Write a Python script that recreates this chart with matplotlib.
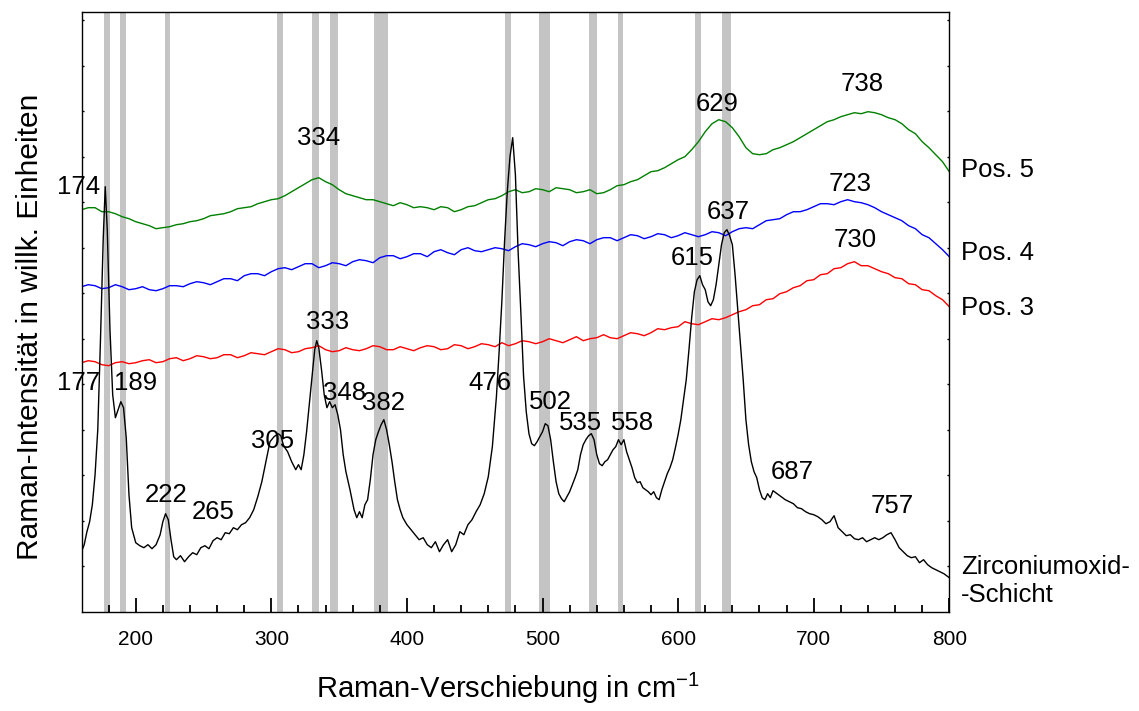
import matplotlib
matplotlib.use("Agg")
import matplotlib.pyplot as plt
import numpy as np

plt.rcParams["font.family"] = ["Liberation Sans", "DejaVu Sans"]
plt.rcParams["mathtext.fontset"] = "custom"
plt.rcParams["mathtext.rm"] = "Liberation Sans"
plt.rcParams["mathtext.it"] = "Liberation Sans"

# Raman spectra (wavenumber in cm^-1, intensity in arbitrary units, already offset)
zro_x = [160, 162, 164, 166, 168, 170, 172, 174, 176, 177.5, 179, 181, 183, 185, 187, 189, 191, 193,
         195, 197, 200, 203, 206, 209, 212, 215, 218, 220, 222, 224, 226, 228, 230, 233, 236, 239,
         242, 245, 248, 251, 254, 257, 260, 263, 266, 269, 272, 275, 278, 281, 284, 287, 290, 293,
         296, 299, 302, 305, 307, 309, 312, 315, 318, 320, 322, 324, 326, 328, 330, 332, 333.5, 335,
         337, 339, 341, 343, 345, 347, 349, 351, 353, 355, 358, 361, 363, 365, 367, 369, 371, 373,
         375, 377, 379, 381, 383, 385, 387, 389, 391, 393, 395, 397, 400, 403, 406, 409, 412, 415,
         418, 421, 424, 427, 430, 433, 436, 439, 442, 445, 448, 451, 454, 457, 460, 463, 466, 468,
         470, 472, 474, 476, 478, 480, 482, 484, 486, 488, 490, 492, 494, 496, 498, 500, 502, 504,
         506, 508, 510, 512, 514, 516, 518, 520, 522, 524, 526, 528, 530, 532, 534, 536, 538, 540,
         542, 544, 546, 548, 550, 552, 554, 556, 558, 560, 562, 564, 566, 568, 570, 572, 574, 576,
         578, 580, 582, 584, 586, 588, 590, 592, 594, 596, 598, 600, 602, 604, 606, 608, 610, 612,
         614, 616, 618, 620, 622, 624, 626, 628, 630, 632, 634, 636, 638, 640, 642, 644, 646, 648,
         650, 652, 654, 656, 658, 660, 662, 664, 666, 668, 670, 673, 676, 679, 682, 685, 688, 691,
         694, 697, 700, 703, 706, 709, 712, 715, 718, 721, 724, 727, 730, 733, 736, 739, 742, 745,
         748, 751, 754, 757, 760, 763, 766, 769, 772, 775, 778, 781, 784, 787, 790, 793, 796, 800]
zro_y = [60, 67, 80, 90, 107, 137, 182, 272, 372, 425, 382, 282, 217, 194, 202, 210, 204, 174,
         117, 84, 69, 66, 64, 67, 63, 67, 77, 90, 98, 92, 72, 55, 52, 56, 50, 55,
         59, 57, 64, 66, 63, 71, 74, 72, 79, 78, 84, 82, 87, 89, 94, 102, 115, 130,
         150, 170, 175, 178, 176, 166, 160, 150, 142, 147, 142, 157, 180, 207, 234, 262, 271, 264,
         242, 217, 204, 210, 204, 207, 197, 182, 157, 140, 122, 102, 94, 100, 94, 107, 112, 132,
         157, 172, 180, 187, 192, 182, 167, 150, 130, 112, 102, 94, 87, 82, 77, 72, 74, 67,
         64, 70, 60, 67, 72, 60, 67, 80, 77, 87, 92, 100, 107, 118, 135, 165, 215, 260,
         310, 370, 420, 455, 474, 437, 360, 300, 236, 200, 178, 168, 166, 170, 175, 180, 188, 186,
         172, 150, 130, 118, 113, 110, 115, 120, 127, 134, 142, 157, 167, 172, 176, 178, 172, 157,
         148, 146, 150, 152, 157, 162, 165, 172, 167, 172, 160, 152, 144, 134, 129, 130, 124, 122,
         120, 117, 120, 114, 112, 122, 130, 138, 144, 152, 164, 177, 192, 212, 232, 262, 294, 320,
         332, 336, 327, 322, 310, 306, 312, 327, 347, 367, 379, 382, 376, 367, 337, 302, 267, 232,
         192, 167, 150, 140, 134, 122, 114, 112, 118, 114, 121, 118, 115, 112, 110, 108, 104, 103,
         100, 98, 97, 95, 92, 88, 90, 96, 84, 80, 76, 77, 73, 72, 74, 70, 72, 74,
         72, 74, 77, 79, 72, 64, 60, 56, 54, 55, 49, 52, 47, 44, 42, 40, 38, 34]

pos_x = [160, 165, 170, 175, 180, 185, 190, 195, 200, 205, 210, 215, 220, 225, 230, 235, 240, 245,
         250, 255, 260, 265, 270, 275, 280, 285, 290, 295, 300, 305, 310, 315, 320, 325, 330, 335,
         340, 345, 350, 355, 360, 365, 370, 375, 380, 385, 390, 395, 400, 405, 410, 415, 420, 425,
         430, 435, 440, 445, 450, 455, 460, 465, 470, 475, 480, 485, 490, 495, 500, 505, 510, 515,
         520, 525, 530, 535, 540, 545, 550, 555, 560, 565, 570, 575, 580, 585, 590, 595, 600, 605,
         610, 615, 620, 625, 630, 635, 640, 645, 650, 655, 660, 665, 670, 675, 680, 685, 690, 695,
         700, 705, 710, 715, 720, 725, 730, 735, 740, 745, 750, 755, 760, 765, 770, 775, 780, 785,
         790, 795, 800]
pos3_y = [249, 251, 250, 247, 246, 249, 250, 248, 249, 251, 252, 249, 250, 253, 254, 251, 253, 256,
          255, 253, 254, 257, 257, 254, 256, 259, 258, 257, 260, 263, 262, 259, 260, 263, 264, 266,
          262, 260, 261, 264, 262, 261, 263, 266, 265, 262, 262, 265, 263, 261, 264, 266, 265, 262,
          263, 267, 266, 263, 265, 268, 267, 265, 269, 266, 268, 271, 270, 268, 270, 273, 271, 269,
          272, 275, 271, 273, 274, 277, 274, 273, 276, 279, 278, 276, 279, 283, 282, 284, 285, 290,
          288, 287, 290, 293, 292, 294, 297, 300, 302, 306, 307, 312, 313, 318, 320, 324, 326, 331,
          332, 337, 338, 343, 344, 348, 350, 346, 346, 343, 340, 338, 334, 333, 328, 327, 322, 321,
          316, 312, 305]
pos4_y = [325, 327, 326, 323, 324, 327, 325, 322, 323, 325, 322, 321, 323, 326, 326, 325, 328, 330,
          329, 327, 330, 333, 333, 331, 336, 338, 338, 336, 340, 343, 344, 342, 345, 348, 348, 344,
          346, 349, 348, 346, 350, 352, 351, 349, 354, 356, 356, 353, 355, 358, 358, 355, 360, 362,
          359, 357, 362, 364, 361, 360, 362, 364, 363, 361, 365, 368, 367, 365, 368, 370, 369, 366,
          370, 372, 371, 368, 372, 374, 374, 371, 374, 377, 376, 373, 375, 378, 377, 374, 376, 379,
          377, 375, 377, 380, 379, 376, 380, 383, 384, 383, 387, 391, 392, 393, 397, 400, 400, 402,
          405, 408, 408, 407, 410, 412, 410, 409, 407, 404, 400, 397, 394, 391, 386, 383, 377, 374,
          368, 362, 355]
pos5_y = [402, 404, 404, 400, 400, 398, 395, 393, 390, 388, 386, 383, 384, 385, 387, 388, 390, 391,
          393, 396, 397, 398, 400, 403, 404, 405, 408, 410, 412, 413, 416, 420, 424, 428, 432, 434,
          430, 427, 422, 418, 416, 414, 412, 412, 410, 408, 406, 409, 407, 404, 405, 404, 402, 405,
          404, 400, 402, 405, 406, 409, 412, 413, 416, 420, 422, 419, 420, 423, 422, 420, 424, 423,
          422, 419, 420, 422, 418, 419, 422, 426, 427, 430, 432, 436, 440, 441, 444, 448, 452, 455,
          462, 470, 480, 488, 492, 490, 484, 475, 464, 458, 457, 458, 462, 464, 467, 470, 474, 478,
          482, 486, 490, 492, 495, 497, 499, 498, 500, 499, 497, 494, 492, 488, 482, 478, 470, 464,
          457, 450, 440]

# Reference band positions (lower / upper edge in cm^-1)
band_lo = [176.4, 188.2, 221.4, 304.5, 330.3, 342.9, 375.5, 472.6, 497.7, 534.1, 555.4, 612.7, 632.4]
band_hi = [180.9, 193.0, 225.1, 308.7, 335.0, 348.8, 385.9, 477.1, 505.8, 540.0, 559.1, 616.9, 639.1]

# Peak labels: text, x, y
peak_labels = [("174", 157.8, 425), ("177", 157.8, 229), ("189", 199.8, 229), ("222", 222.7, 117),
               ("265", 257.3, 100), ("305", 300.8, 171), ("333", 341.4, 290), ("348", 353.9, 219),
               ("382", 382.7, 209), ("334", 334.8, 474), ("476", 460.9, 229), ("502", 505.8, 210),
               ("535", 528.0, 189), ("558", 566.3, 189), ("615", 610.6, 354), ("637", 637.1, 400),
               ("629", 629.0, 508), ("738", 735.9, 528), ("723", 727.0, 428), ("730", 730.7, 372),
               ("687", 684.3, 140), ("757", 758.0, 106)]

series_names = ["Pos. 5", "Pos. 4", "Pos. 3", "Zirconiumoxid-\n-Schicht"]
series_label_y = [442, 359, 304, 31]

fig = plt.figure(figsize=(11.39, 7.11), dpi=100)
ax = fig.add_axes([81.5 / 1139, (711 - 611.7) / 711, (949.3 - 81.5) / 1139, 600 / 711])

for lo, hi in zip(band_lo, band_hi):
    ax.axvspan(lo, hi, color="#c4c4c4", lw=0, zorder=0)

ax.plot(zro_x, zro_y, color="black", lw=1.0, zorder=3)
ax.plot(pos_x, pos3_y, color="#ff0000", lw=1.0, zorder=2)
ax.plot(pos_x, pos4_y, color="#0000ff", lw=1.0, zorder=2)
ax.plot(pos_x, pos5_y, color="#008000", lw=1.0, zorder=2)

for txt, x, y in peak_labels:
    ax.text(x, y, txt, fontsize=18.5, ha="center", va="center", zorder=4, clip_on=False)

for name, y in zip(series_names, series_label_y):
    ax.text(808.5, y, name, fontsize=18.5, ha="left", va="center", clip_on=False,
            linespacing=1.2)

ax.set_xlim(160, 800)
ax.set_ylim(0, 600)
ax.set_xticks(np.arange(200, 801, 100))
ax.set_xticks(np.arange(180, 800, 20), minor=True)
ax.set_yticks(np.arange(1, 14) * 45.5)
ax.set_yticklabels([])
ax.tick_params(axis="x", which="major", direction="in", length=10, width=1.3,
               color="black", labelsize=15, pad=13, bottom=True, top=False)
ax.tick_params(axis="x", which="minor", direction="in", length=5, width=1.3,
               color="black", bottom=True, top=False)
ax.tick_params(axis="y", which="major", direction="in", length=1.5, width=1.0,
               left=True, right=True)
for s in ax.spines.values():
    s.set_linewidth(1.0)

ax.set_xlabel(r"Raman-Verschiebung in cm$^{-1}$", fontsize=21)
ax.xaxis.set_label_coords(0.4915, -0.127)
ax.xaxis.label.set_va("center")
ax.set_ylabel("Raman-Intensität in willk. Einheiten", fontsize=21.5)
ax.yaxis.set_label_coords(-0.059, 0.475)
ax.yaxis.label.set_va("center")

fig.savefig("out.png", dpi=100)
